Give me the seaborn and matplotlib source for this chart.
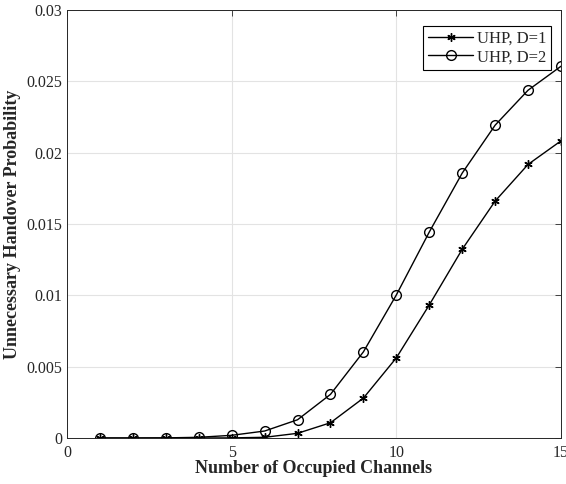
import numpy as np
import pandas as pd
import matplotlib
matplotlib.use("Agg")
import matplotlib.pyplot as plt
import seaborn as sns
from matplotlib.ticker import FuncFormatter

channels = [1, 2, 3, 4, 5, 6, 7, 8, 9, 10, 11, 12, 13, 14, 15]
uhp_d1 = [0.0, 0.0, 0.0, 0.0, 0.00001, 0.00005, 0.00033, 0.00107, 0.0028, 0.00562,
          0.00933, 0.01323, 0.01661, 0.01918, 0.02083]
uhp_d2 = [0.0, 0.0, 0.00001, 0.00005, 0.00019, 0.00049, 0.00128, 0.00306, 0.00604, 0.01003,
          0.01444, 0.01857, 0.02193, 0.02438, 0.02606]
labels = ["UHP, D=1", "UHP, D=2"]

df = pd.DataFrame({
    "x": channels * 2,
    "y": uhp_d1 + uhp_d2,
    "series": [labels[0]] * len(channels) + [labels[1]] * len(channels),
})

sns.set_style("white")
plt.rcParams['font.family'] = ['Liberation Serif', 'DejaVu Serif']
plt.rcParams['xtick.direction'] = 'in'
plt.rcParams['ytick.direction'] = 'in'

fig = plt.figure(figsize=(5.66, 4.84), dpi=100)
ax = fig.add_axes([0.1184, 0.095, 0.8728, 0.8843])

markers = {labels[0]: (6, 2, 0), labels[1]: 'o'}
for lab in labels:
    sub = df[df["series"] == lab]
    sns.lineplot(data=sub, x="x", y="y", ax=ax, color='black', linewidth=1.0,
                 marker=markers[lab], markersize=7 if lab == labels[1] else 6,
                 markerfacecolor='none', markeredgecolor='black', markeredgewidth=1.0,
                 label=lab)

ax.set_xlim(0, 15)
ax.set_ylim(0, 0.03)
ax.set_xticks([0, 5, 10, 15])
ax.set_yticks([0, 0.005, 0.01, 0.015, 0.02, 0.025, 0.03])
ax.yaxis.set_major_formatter(FuncFormatter(lambda v, p: '%g' % round(v, 4)))
ax.grid(True, color='#e3e3e3', linewidth=0.8)
ax.tick_params(labelsize=11.5, length=4, top=True, right=True, width=0.6)
ax.tick_params(axis='x', pad=5)
for s in ax.spines.values():
    s.set_color('#262626')
    s.set_linewidth(0.7)

ax.set_xlabel("Number of Occupied Channels", fontsize=13, fontweight='bold', labelpad=-1)
ax.set_ylabel("Unnecessary Handover Probability", fontsize=13, fontweight='bold', labelpad=4)

leg = ax.legend(loc='upper right', bbox_to_anchor=(0.99, 0.975), fontsize=12,
                fancybox=False, edgecolor='black', framealpha=1, borderpad=0.3,
                handlelength=2.7, handletextpad=0.2, labelspacing=0.15, borderaxespad=0.3)
leg.get_frame().set_linewidth(0.8)

fig.savefig("out.png", dpi=100)
